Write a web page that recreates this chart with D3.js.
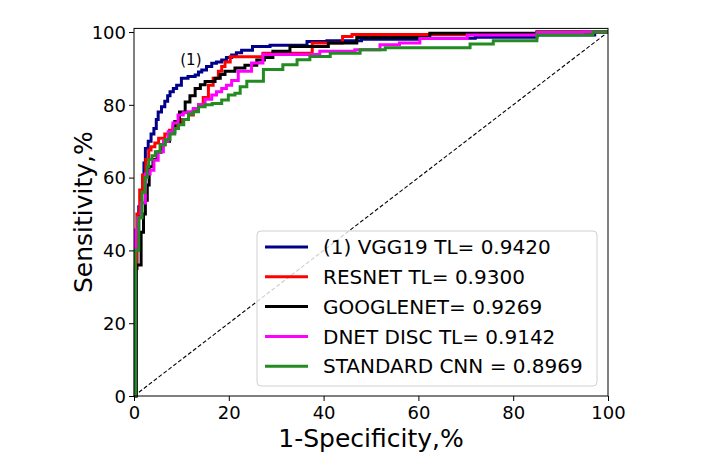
<!DOCTYPE html>
<html>
<head>
<meta charset="utf-8">
<script src="https://cdn.jsdelivr.net/npm/d3@7"></script>
<style>
html,body{margin:0;padding:0;background:#fff;}
svg{display:block;font-family:"DejaVu Sans",sans-serif;}
</style>
</head>
<body>
<svg id="chart" width="716" height="460"></svg>
<script>
// ---- data (fpr %, tpr %) : step corners ----
const vggX = [0,0.3,0.6,1.0,1.5,1.8,2.1,2.4,3.0,3.6,4.2,4.7,5.1,5.8,6.5,7.1,7.6,8.3,9.0,10.0,11.4,12.9,13.6,14.3,15.3,16.4,17.4,18.5,19.5,20.6,21.6,22.7,25.0,28.7,36.5,40.7,48.0,60.0,72.0,85.0,97.2,100];
const vggY = [0,35,45,52,56,60,64,68,70,72,73.5,76,78,79.5,81,82.5,83.6,84.5,85.4,87.3,87.8,88.2,89,89.6,90.5,91.4,91.8,92.3,93,93.7,94.3,95,96,96.4,97.4,97.6,98,98.3,98.6,99.2,100,100];

const resX = [0,0.3,0.6,1.2,1.8,2.5,3.1,3.6,4.4,5.2,6.5,7.5,8.2,9.0,10.2,11.5,12.5,13.6,14.6,15.7,16.7,17.8,18.5,19.2,20.3,27.2,37.6,44,46,85,100];
const resY = [0,35,50,56.6,60.7,65,67.6,68.5,69.5,70.8,72,73,74,75,76,77.2,78.5,80,82,85.4,87.3,89.2,90.5,91.8,93.2,94.2,97,98.8,99.3,100,100];

const gooX = [0,0.5,1.5,2.0,2.4,2.8,3.2,4.0,4.9,5.7,6.5,7.5,8.6,9.6,10.8,11.8,12.9,14.0,15.0,17.1,18.2,19.2,21.3,23.4,25.9,27.5,29.3,32.9,41.0,47.0,62.4,85,100];
const gooY = [0,36,45,50,53.8,58,63,65,67,69,70,72.5,75.4,78,80.8,82.5,84.5,85.5,86.4,87.3,88.3,89.2,90.1,90.9,92.3,93,94.7,96,97,98.5,99.7,100,100];

const dnetX = [0,0.3,0.8,1.5,2.4,3.4,4.2,5.1,6.2,7.2,8.2,9.3,10.4,11.5,12.5,13.6,15.0,16.4,17.4,18.5,19.5,20.6,22.0,24.8,27.2,39.2,46.6,51.9,56,60.3,70.3,85,94.7,100];
const dnetY = [0,45.6,49,53,61,62,64.8,67.1,70,72.6,75,77.2,77.8,78.1,79,80,81.5,82.7,83.6,84.5,85.4,86.7,89.2,91.5,93.8,94.7,95.1,96.5,97,98.2,99.2,99.9,100,100];

const cnnX = [0,0.3,1.0,1.7,2.3,2.8,3.1,3.8,4.5,5.5,6.6,7.6,8.6,9.4,10.5,11.5,12.5,13.6,15,16.5,18.5,19.9,21.3,22.4,23.8,27.3,31.4,34.4,37.1,41.4,47.7,53,70.9,75.8,85,96.8,100];
const cnnY = [0,40,49,56,60,63,65,66,67.1,69,70.5,72,73.5,74.5,76,77.5,78.1,79.5,80,80.4,81.3,82.7,83.2,85,86.5,89.7,91,92.4,93.3,94.2,95.1,95.7,96.7,97.6,99.2,100,100];

const seriesNames = ["(1) VGG19 TL= 0.9420","RESNET TL= 0.9300","GOOGLENET= 0.9269","DNET DISC TL= 0.9142","STANDARD CNN = 0.8969"];
const seriesColors = ["#00008b","#ff0000","#000000","#ff00ff","#228b22"];
const seriesX = [vggX,resX,gooX,dnetX,cnnX];
const seriesY = [vggY,resY,gooY,dnetY,cnnY];

const xTicks = [0,20,40,60,80,100];
const yTicks = [0,20,40,60,80,100];
const xLabel = "1-Specificity,%";
const yLabel = "Sensitivity,%";
const annotText = "(1)";
const annotPos = [12, 91];

// ---- layout ----
const svg = d3.select("#chart");
const L = 134, R = 608, T = 28.4, B = 396;
const x = d3.scaleLinear().domain([0,100]).range([L,R]);
const y = d3.scaleLinear().domain([0,101]).range([B,T]);

svg.append("rect").attr("width",716).attr("height",460).attr("fill","#fff");

// diagonal
svg.append("line")
  .attr("x1",x(0)).attr("y1",y(0)).attr("x2",x(100)).attr("y2",y(100))
  .attr("stroke","#000").attr("stroke-width",1.1).attr("stroke-dasharray","4,2.2");

svg.append("clipPath").attr("id","clip").append("rect")
  .attr("x",L-2).attr("y",T-2).attr("width",R-L+4).attr("height",B-T+4);

const line = d3.line().x(d=>x(d[0])).y(d=>y(d[1])).curve(d3.curveStepAfter);
const g = svg.append("g").attr("clip-path","url(#clip)");
seriesX.forEach((xs,i)=>{
  const pts = xs.map((v,j)=>[v, seriesY[i][j]]);
  g.append("path").datum(pts).attr("d",line)
    .attr("fill","none").attr("stroke",seriesColors[i])
    .attr("stroke-width",3).attr("stroke-linejoin","miter");
});

// annotation
svg.append("text").attr("x",x(annotPos[0])).attr("y",y(annotPos[1]))
  .attr("text-anchor","middle").attr("font-size",15).attr("fill","#000").text(annotText);

// axes
const xAxis = d3.axisBottom(x).tickValues(xTicks).tickSize(5).tickPadding(3);
const yAxis = d3.axisLeft(y).tickValues(yTicks).tickSize(5).tickPadding(3);
const gx = svg.append("g").attr("transform",`translate(0,${B})`).call(xAxis);
const gy = svg.append("g").attr("transform",`translate(${L},0)`).call(yAxis);
[gx,gy].forEach(a=>{
  a.select(".domain").remove();
  a.selectAll("line").attr("stroke","#000").attr("stroke-width",1);
  a.selectAll("text").attr("font-size",18).attr("fill","#000").attr("font-family","DejaVu Sans");
});
gx.selectAll("text").attr("dy","0.85em");
gy.selectAll("text").attr("dy","0.35em");

// frame
svg.append("rect").attr("x",L).attr("y",T).attr("width",R-L).attr("height",B-T)
  .attr("fill","none").attr("stroke","#000").attr("stroke-width",1);

// axis labels
svg.append("text").attr("x",(L+R)/2).attr("y",447).attr("text-anchor","middle")
  .attr("font-size",25).attr("fill","#000").text(xLabel);
svg.append("text").attr("transform",`translate(92,${(T+B)/2}) rotate(-90)`)
  .attr("text-anchor","middle").attr("font-size",25).attr("fill","#000").text(yLabel);

// legend
const lg = svg.append("g");
lg.append("rect").attr("x",257).attr("y",231).attr("width",340).attr("height",155)
  .attr("rx",4).attr("fill","#fff").attr("fill-opacity",0.8)
  .attr("stroke","#d0d0d0").attr("stroke-width",1);
seriesNames.forEach((n,i)=>{
  const cy = 247 + i*29.8;
  lg.append("line").attr("x1",265).attr("x2",308).attr("y1",cy).attr("y2",cy)
    .attr("stroke",seriesColors[i]).attr("stroke-width",3);
  lg.append("text").attr("x",323).attr("y",cy).attr("dy","0.36em")
    .attr("font-size",20).attr("fill","#000").text(n);
});
</script>
</body>
</html>
